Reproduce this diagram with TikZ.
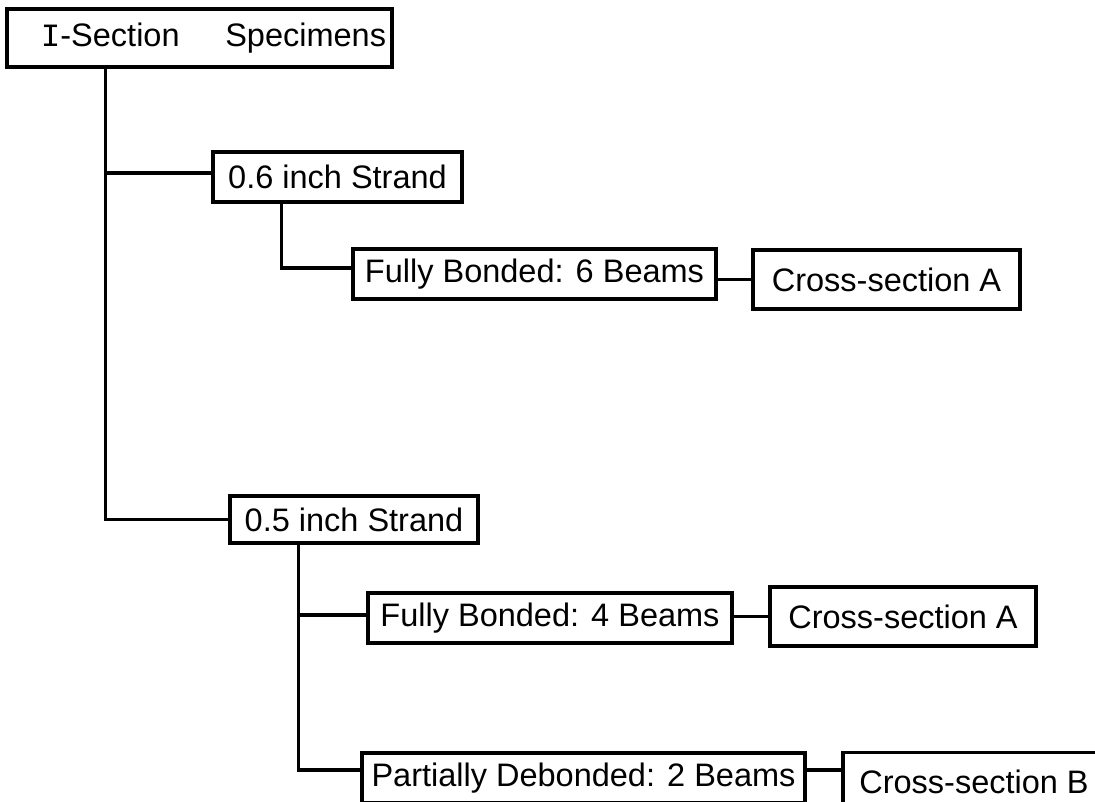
\documentclass[tikz,border=0pt]{standalone}
\usepackage{fontspec}
\setmainfont{Liberation Sans}
\newfontfamily\monofont{Liberation Mono}
\usetikzlibrary{calc}

\tikzset{
    box/.style={draw, line width=2.2pt, inner sep=0pt, minimum height=1cm,
        font=\fontsize{18.5}{22}\selectfont},
    csbox/.style={box, minimum height=1.18cm},
    link/.style={line width=1.8pt}
}

\begin{document}
\begin{tikzpicture}[x=0.02cm, y=-0.02cm]
        \useasboundingbox (0,0) rectangle (1095,801);

        % Root
        \node[box, minimum width=7.7cm, minimum height=1.16cm] (root) at (199.5,38)
            {\hspace{0.56cm}{\monofont I}-Section\hspace{26pt}Specimens};

        % 0.6 inch branch
        \node[box, minimum width=4.98cm] (strandA) at (337.5,177) {0.6 inch Strand};
        \node[box, minimum width=7.26cm] (fullA) at (534.5,274) {Fully Bonded: 6 Beams};
        \node[csbox, minimum width=5.34cm] (crossA) at (886.5,279.5) {Cross-section A};

        % 0.5 inch branch
        \node[box, minimum width=4.96cm, minimum height=0.94cm] (strandB) at (354,519.5) {0.5 inch Strand};
        \node[box, minimum width=7.28cm] (fullB) at (550,618) {Fully Bonded: 4 Beams};
        \node[csbox, minimum width=5.32cm] (crossB) at (903,616.5) {Cross-section A};
        \node[box, minimum width=8.86cm] (partB) at (583.5,778) {Partially Debonded: 2 Beams};
        \node[csbox, minimum width=5.24cm] (crossC) at (974,782) {Cross-section B};

        % Trunk from root
        \coordinate (trunk) at ($(root.south west)+(100,0)$);
        \coordinate (jA) at ($(trunk)+(0,104)$);
        \draw[link] (trunk) |- (strandB.west);
        \draw[link] (jA) -- (jA -| strandA.west);

        % Under 0.6 inch
        \coordinate (subA) at ($(strandA.south west)+(70,0)$);
        \draw[link] (subA) |- ($(fullA.west)+(0,-6)$);
        \draw[link] (crossA.west -| fullA.east) -- (crossA.west);

        % Under 0.5 inch
        \coordinate (subB) at ($(strandB.south west)+(70,0)$);
        \coordinate (jB) at ($(subB)+(0,70)$);
        \coordinate (jC) at ($(partB.east)+(0,-8)$);
        \draw[link] (subB) |- ($(partB.west)+(0,-8)$);
        \draw[link] (jB) -- (jB -| fullB.west);
        \draw[link] (crossB.west -| fullB.east) -- (crossB.west);
        \draw[link] (jC) -- (jC -| crossC.west);
    \end{tikzpicture}
\end{document}
